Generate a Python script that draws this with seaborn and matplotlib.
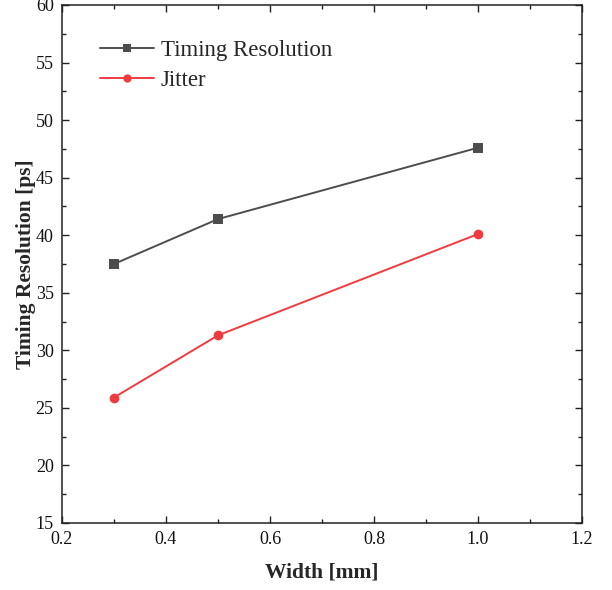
import matplotlib
matplotlib.use('Agg')
import matplotlib.pyplot as plt
import matplotlib.ticker
import pandas as pd
import seaborn as sns

width_mm = [0.3, 0.5, 1.0]
timing_resolution = [37.5, 41.4, 47.6]
jitter = [25.9, 31.3, 40.1]

sns.set_theme(style='ticks')
plt.rcParams['font.family'] = ['Liberation Serif', 'DejaVu Serif']

df = pd.DataFrame({
    'Width': width_mm * 2,
    'Value': timing_resolution + jitter,
    'Series': ['Timing Resolution'] * 3 + ['Jitter'] * 3,
})

fig = plt.figure(figsize=(6.12, 5.90), dpi=100)
ax = fig.add_axes([0.1013, 0.1136, 0.8497, 0.878])

sns.lineplot(
    data=df,
    x='Width',
    y='Value',
    hue='Series',
    style='Series',
    palette={'Timing Resolution': '#4d4d4d', 'Jitter': '#ef3b40'},
    markers={'Timing Resolution': 's', 'Jitter': 'o'},
    dashes=False,
    markersize=7,
    markeredgewidth=0,
    linewidth=1.4,
    ax=ax,
)

ax.set_xlim(0.2, 1.2)
ax.set_ylim(15, 60)
ax.xaxis.set_major_locator(matplotlib.ticker.MultipleLocator(0.2))
ax.xaxis.set_minor_locator(matplotlib.ticker.MultipleLocator(0.1))
ax.yaxis.set_major_locator(matplotlib.ticker.MultipleLocator(5))
ax.yaxis.set_minor_locator(matplotlib.ticker.MultipleLocator(2.5))
ax.xaxis.set_major_formatter(matplotlib.ticker.FormatStrFormatter('%.1f'))
ax.tick_params(which='both', direction='in', top=True, right=True,
               labelsize=13, color='#222222', labelcolor='#111111')
ax.tick_params(axis='x', pad=6)
ax.tick_params(axis='y', pad=6)
ax.tick_params(which='major', length=5, width=1)
ax.tick_params(which='minor', length=3, width=1)
for side in ['left', 'right', 'top', 'bottom']:
    ax.spines[side].set_visible(True)
    ax.spines[side].set_linewidth(1.1)
    ax.spines[side].set_color('#222222')

ax.set_xlabel('Width [mm]', fontsize=15.5, fontweight='bold', labelpad=10)
ax.set_ylabel('Timing Resolution [ps]', fontsize=15.5, fontweight='bold', labelpad=0)

ax.legend(
    title=None,
    loc='upper left',
    bbox_to_anchor=(0.073, 0.932),
    borderaxespad=0,
    borderpad=0,
    frameon=False,
    fontsize=16.5,
    handlelength=2.35,
    handletextpad=0.3,
    labelspacing=0.38,
    markerscale=0.85,
)

fig.savefig('out.png', dpi=100)
